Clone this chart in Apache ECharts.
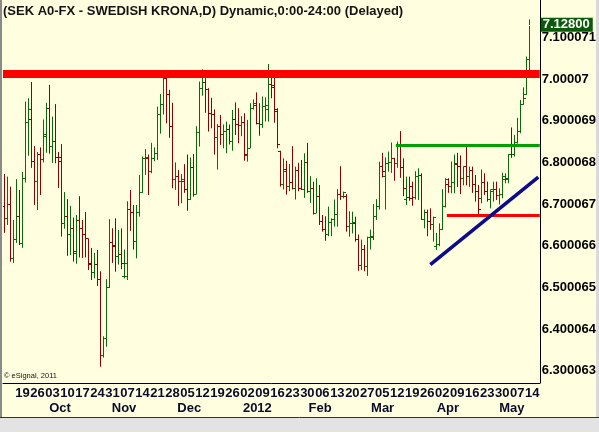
<!DOCTYPE html>
<html>
<head>
<meta charset="utf-8">
<script src="https://cdn.jsdelivr.net/npm/echarts@6/dist/echarts.min.js"></script>
<style>
html,body{margin:0;padding:0;background:#FFFFE0;}
#chart{width:599px;height:432px;}
</style>
</head>
<body>
<div id="chart"></div>
<script>
// ---------- DATA ----------
const titleText = '(SEK A0-FX - SWEDISH KRONA,D) Dynamic,0:00-24:00 (Delayed)';
const firstDay = '2011-09-09';      // first bar
const lastAxisDay = '2012-05-16';   // right end of the time axis
const firstLabeledMonday = '2011-09-19';

const opens = [
6.694,6.666,6.700,6.570,6.614,6.670,6.606,6.762,6.895,6.902,
6.803,6.754,6.819,6.808,6.868,6.930,6.839,6.851,6.812,6.812,
6.654,6.671,6.626,6.642,6.582,6.660,6.642,6.628,6.618,6.558,
6.537,6.556,6.519,6.337,6.377,6.499,6.608,6.600,6.574,6.579,
6.526,6.526,6.686,6.680,6.610,6.680,6.728,6.810,6.810,6.779,
6.810,6.822,6.915,6.938,7.002,6.963,6.887,6.758,6.767,6.755,
6.755,6.734,6.710,6.788,6.723,6.871,6.978,6.991,6.974,6.918,
6.914,6.860,6.887,6.868,6.875,6.879,6.850,6.903,6.890,6.888,
6.896,6.816,6.834,6.930,6.936,6.894,6.890,6.934,6.926,6.988,
6.980,6.922,6.826,6.746,6.782,6.742,6.751,6.738,6.781,6.738,
6.735,6.799,6.730,6.738,6.678,6.719,6.658,6.638,6.626,6.655,
6.664,6.676,6.722,6.719,6.719,6.646,6.654,6.654,6.614,6.552,
6.590,6.551,6.620,6.620,6.671,6.694,6.791,6.766,6.798,6.799,
6.810,6.798,6.843,6.788,6.711,6.716,6.742,6.716,6.766,6.768,
6.663,6.679,6.658,6.650,6.598,6.602,6.639,6.694,6.748,6.743,
6.751,6.796,6.790,6.762,6.790,6.766,6.780,6.746,6.730,6.714,
6.751,6.730,6.710,6.730,6.734,6.721,6.722,6.758,6.758,6.842,
6.818,6.847,6.874,6.938,6.962,7.046];

const highs = [
6.772,6.766,6.742,6.662,6.760,6.734,6.777,6.946,6.954,6.993,
6.839,6.825,6.836,6.903,6.943,6.986,6.910,6.940,6.825,6.844,
6.729,6.712,6.696,6.668,6.674,6.719,6.662,6.681,6.618,6.595,
6.583,6.590,6.539,6.383,6.520,6.664,6.642,6.666,6.638,6.642,
6.591,6.707,6.734,6.698,6.698,6.770,6.814,6.832,6.819,6.847,
6.836,6.934,6.964,7.019,7.006,6.974,6.943,6.800,6.782,6.772,
6.796,6.819,6.812,6.820,6.887,6.994,7.023,7.002,6.978,6.955,
6.927,6.892,6.914,6.891,6.898,6.891,6.926,6.944,6.930,6.911,
6.918,6.902,6.942,6.951,6.968,6.942,6.958,6.956,7.036,7.020,
7.014,6.930,6.828,6.810,6.804,6.796,6.839,6.790,6.799,6.806,
6.822,6.847,6.767,6.754,6.762,6.746,6.674,6.671,6.694,6.666,
6.711,6.736,6.791,6.730,6.724,6.683,6.682,6.670,6.627,6.615,
6.602,6.622,6.639,6.700,6.712,6.802,6.823,6.812,6.826,6.848,
6.811,6.850,6.875,6.810,6.766,6.766,6.754,6.779,6.786,6.774,
6.687,6.687,6.690,6.670,6.631,6.654,6.736,6.762,6.762,6.802,
6.819,6.823,6.817,6.791,6.843,6.790,6.790,6.770,6.746,6.783,
6.774,6.754,6.735,6.754,6.754,6.738,6.775,6.774,6.820,6.884,
6.866,6.907,6.950,6.980,7.054,7.143];

const lows = [
6.631,6.650,6.562,6.559,6.607,6.602,6.595,6.752,6.816,6.787,
6.698,6.686,6.722,6.800,6.823,6.821,6.799,6.798,6.739,6.622,
6.641,6.576,6.578,6.562,6.557,6.572,6.571,6.572,6.542,6.518,
6.522,6.504,6.310,6.332,6.358,6.499,6.559,6.538,6.555,6.544,
6.522,6.518,6.636,6.591,6.570,6.670,6.727,6.770,6.722,6.774,
6.803,6.806,6.869,6.915,6.894,6.859,6.738,6.734,6.696,6.702,
6.727,6.684,6.710,6.718,6.723,6.838,6.960,6.919,6.874,6.882,
6.819,6.783,6.842,6.834,6.822,6.843,6.828,6.866,6.846,6.863,
6.804,6.802,6.834,6.927,6.891,6.864,6.883,6.898,6.898,6.954,
6.895,6.834,6.742,6.735,6.723,6.731,6.735,6.711,6.731,6.734,
6.715,6.727,6.703,6.675,6.678,6.650,6.634,6.612,6.623,6.623,
6.646,6.646,6.710,6.714,6.634,6.622,6.630,6.610,6.540,6.542,
6.539,6.528,6.591,6.614,6.662,6.687,6.764,6.687,6.778,6.775,
6.756,6.787,6.763,6.719,6.698,6.708,6.696,6.711,6.710,6.662,
6.642,6.623,6.638,6.610,6.590,6.599,6.638,6.692,6.727,6.726,
6.726,6.741,6.724,6.745,6.745,6.741,6.727,6.706,6.676,6.702,
6.722,6.706,6.690,6.706,6.710,6.699,6.714,6.750,6.750,6.811,
6.814,6.845,6.870,6.938,6.962,7.010];

const closes = [
6.666,6.700,6.570,6.614,6.670,6.606,6.762,6.895,6.926,6.803,
6.754,6.819,6.808,6.863,6.930,6.839,6.851,6.812,6.803,6.654,
6.671,6.626,6.642,6.586,6.660,6.642,6.628,6.618,6.555,6.537,
6.556,6.519,6.337,6.377,6.499,6.608,6.598,6.574,6.579,6.558,
6.558,6.686,6.680,6.610,6.680,6.728,6.810,6.812,6.779,6.810,
6.822,6.915,6.938,7.002,6.963,6.887,6.758,6.767,6.755,6.758,
6.734,6.710,6.788,6.722,6.871,6.978,6.991,6.974,6.918,6.914,
6.860,6.887,6.868,6.875,6.879,6.850,6.903,6.890,6.888,6.896,
6.819,6.834,6.930,6.942,6.894,6.890,6.934,6.936,6.988,6.984,
6.926,6.842,6.746,6.779,6.742,6.751,6.738,6.781,6.738,6.735,
6.799,6.730,6.738,6.678,6.719,6.658,6.638,6.626,6.655,6.664,
6.676,6.722,6.719,6.727,6.646,6.654,6.656,6.614,6.552,6.590,
6.551,6.620,6.622,6.671,6.694,6.791,6.778,6.798,6.799,6.810,
6.798,6.843,6.788,6.737,6.716,6.714,6.716,6.766,6.768,6.663,
6.679,6.658,6.650,6.668,6.602,6.639,6.694,6.758,6.743,6.751,
6.798,6.790,6.762,6.790,6.766,6.780,6.746,6.730,6.686,6.751,
6.730,6.710,6.734,6.734,6.721,6.724,6.767,6.762,6.818,6.818,
6.847,6.874,6.938,6.954,7.046,7.128];

const yTickLabels = ['6.300063','6.400064','6.500065','6.600066','6.700067','6.800068','6.900069','7.00007','7.100071'];
const monthNames = ['2012','Feb','Mar','Apr','May','Jun','Jul','Aug','Sep','Oct','Nov','Dec'];

// drawn study lines
const resistanceLevel = 7.0125;
const greenLevel = 6.8418, greenStartIdx = 131;
const redLevel = 6.6732, redStartIdx = 148;
const trendStart = [142, 6.555], trendEnd = [178, 6.765];

// ---------- build categories (trading weekdays) ----------
const dates = [];
(function(){
  let t = Date.parse(firstDay + 'T00:00:00Z');
  const end = Date.parse(lastAxisDay + 'T00:00:00Z');
  while (t <= end) {
    const d = new Date(t);
    const wd = d.getUTCDay();
    if (wd > 0 && wd < 6) dates.push(d.toISOString().slice(0,10));
    t += 86400000;
  }
})();
const lastCat = dates.length - 1;

const UP = '#0a6a0a', DOWN = '#900000';
const BG = '#FFFFE0';
const ohlc = opens.map((o,i)=>[i, o, highs[i], lows[i], closes[i]]);
const yTickValues = yTickLabels.map(Number);
const lastClose = closes[closes.length-1];
const FONT = 'Liberation Sans, Arial, sans-serif';

const chart = echarts.init(document.getElementById('chart'), null, {renderer:'canvas'});

const option = {
  backgroundColor: BG,
  animation: false,
  title: [
    {text: titleText, left: 3, top: 5, padding: 0,
     textStyle:{fontSize:13, fontWeight:'bold', color:'#141414', fontFamily:FONT}},
    {text: '\u00A9 eSignal, 2011', left: 4, top: 372, padding: 0,
     textStyle:{fontSize:7.5, fontWeight:'normal', color:'#111', fontFamily:FONT}},
    {text: 'Published by eSignal (www.esignal.com)', right: 6, top: 419, padding: 0,
     textStyle:{fontSize:9.5, fontWeight:'normal', color:'#1a1a1a', fontFamily:FONT}}
  ],
  grid: [
    {left: 3, right: 59, top: 0, bottom: 49, containLabel: false},
    {left: -3.5, right: 65.5, top: 0, bottom: 49, containLabel: false}
  ],
  xAxis: [
    {
      type: 'category', gridIndex: 0, data: dates, boundaryGap: true,
      axisLine: {show: true, onZero: false, lineStyle: {color: '#000', width: 1}},
      axisTick: {show: false},
      splitLine: {show: false},
      axisLabel: {
        interval: function(i, v){ return v >= firstLabeledMonday && new Date(v + 'T00:00:00Z').getUTCDay() === 1; },
        formatter: function(v){ return v.slice(8,10); },
        fontSize: 13, fontWeight: 'bold', color: '#0a0a2a', margin: 4,
        fontFamily: 'Liberation Sans Narrow, Arial Narrow, Liberation Sans, sans-serif'
      }
    },
    {
      type: 'category', gridIndex: 1, data: dates, boundaryGap: true,
      axisLine: {show: false, onZero: false}, axisTick: {show: false}, splitLine: {show: false},
      axisLabel: {
        interval: function(i, v){ return i > 0 && v.slice(5,7) !== dates[i-1].slice(5,7); },
        formatter: function(v){ const m = +v.slice(5,7); return m === 1 ? v.slice(0,4) : monthNames[m-1]; },
        align: 'left', fontSize: 13, fontWeight: 'bold', color: '#0a0a2a', margin: 19,
        fontFamily: FONT
      }
    }
  ],
  yAxis: [
    {
      type: 'value', gridIndex: 0, position: 'right', min: 6.27105, max: 7.18952, scale: true,
      axisLine: {show: true, lineStyle: {color: '#000', width: 1}},
      axisTick: {show: false},
      splitLine: {show: false},
      axisLabel: {
        customValues: yTickValues,
        formatter: function(v){
          for (let i = 0; i < yTickValues.length; i++) if (Math.abs(v - yTickValues[i]) < 1e-6) return yTickLabels[i];
          return '';
        },
        fontSize: 13, fontWeight: 'bold', color: '#000', margin: 2, align: 'left',
        fontFamily: FONT
      }
    },
    {type: 'value', gridIndex: 1, min: 0, max: 1, show: false}
  ],
  series: [
    {
      // carries the last-price tag on the price scale (line drawn in background colour, under the bars)
      type: 'line', xAxisIndex: 0, yAxisIndex: 0, data: [], clip: false, silent: true, z: 1,
      markLine: {
        silent: true, animation: false, symbol: ['none','none'],
        data: [
          {yAxis: lastClose, lineStyle: {color: BG, width: 1, type: 'solid'},
           label: {show: true, position: 'end', distance: 1, formatter: lastClose.toFixed(5),
                   color: '#ffffff', backgroundColor: '#0b5a0b', fontSize: 13, fontWeight: 'bold',
                   padding: [1, 3, 0, 2], fontFamily: FONT}}
        ]
      }
    },
    {
      type: 'custom', xAxisIndex: 0, yAxisIndex: 0, clip: true, z: 2,
      encode: {x: 0, y: [1,2,3,4]},
      data: ohlc,
      renderItem: function(params, api){
        const i = api.value(0);
        const o = api.coord([i, api.value(1)]);
        const h = api.coord([i, api.value(2)]);
        const l = api.coord([i, api.value(3)]);
        const c = api.coord([i, api.value(4)]);
        const x = Math.round(o[0] - 0.5) + 0.5;
        const color = api.value(4) >= api.value(1) ? UP : DOWN;
        const snap = y => Math.floor(y) + 0.5;
        const st = {stroke: color, lineWidth: 1};
        return {type: 'group', children: [
          {type: 'line', shape: {x1: x, y1: h[1], x2: x, y2: l[1]}, style: st},
          {type: 'line', shape: {x1: x - 2.5, y1: snap(o[1]), x2: x - 0.5, y2: snap(o[1])}, style: st},
          {type: 'line', shape: {x1: x + 0.5, y1: snap(c[1]), x2: x + 2.5, y2: snap(c[1])}, style: st}
        ]};
      },
      markLine: {
        silent: true, animation: false, symbol: ['none','none'], precision: 6,
        label: {show: false},
        data: [
          {yAxis: resistanceLevel, lineStyle: {color: '#ff0000', width: 8, type: 'solid'}},
          [{coord: [dates[greenStartIdx], greenLevel], lineStyle: {color: '#00a000', width: 3, type: 'solid', cap: 'square'}},
           {coord: [dates[lastCat], greenLevel]}],
          [{coord: [dates[redStartIdx], redLevel], lineStyle: {color: '#ff0000', width: 3, type: 'solid', cap: 'square'}},
           {coord: [dates[lastCat], redLevel]}],
          [{coord: [dates[trendStart[0]], trendStart[1]], lineStyle: {color: '#0b0b8c', width: 3.5, type: 'solid'}},
           {coord: [dates[trendEnd[0]], trendEnd[1]]}]
        ]
      }
    }
  ],
  graphic: [
    {type: 'rect', z: 100, shape: {x: 0, y: 418, width: 599, height: 14}, style: {fill: '#e3e3e3'}, silent: true},
    {type: 'line', z: 100, shape: {x1: 0, y1: 417.5, x2: 599, y2: 417.5}, style: {stroke: '#303030', lineWidth: 1}, silent: true},
    {type: 'rect', z: 100, shape: {x: 0, y: 0, width: 2, height: 417}, style: {fill: '#8a8a8a'}, silent: true},
    {type: 'rect', z: 100, shape: {x: 596, y: 0, width: 3, height: 417}, style: {fill: '#dadada'}, silent: true}
  ]
};
chart.setOption(option);
</script>
</body>
</html>
